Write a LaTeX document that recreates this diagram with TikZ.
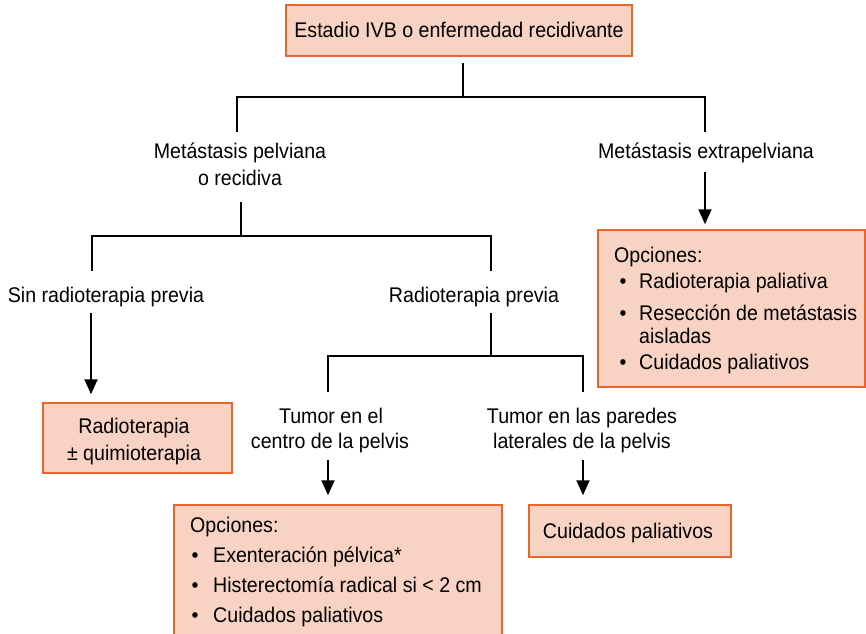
\documentclass[tikz,border=0pt]{standalone}
\usepackage{fontspec}
\setmainfont[FakeStretch=0.925]{Liberation Sans}
\usetikzlibrary{arrows.meta}
\definecolor{boxfill}{HTML}{F8D3C3}
\definecolor{boxline}{HTML}{E8652C}
\begin{document}
\begin{tikzpicture}[x=1pt,y=-1pt,
  box/.style={draw=boxline, fill=boxfill, line width=1.5pt, inner sep=0pt},
  lbl/.style={font=\fontsize{21.2}{24}\selectfont, inner sep=0pt, anchor=base},
  lblw/.style={lbl, anchor=base west},
  bul/.style={lbl},
  ln/.style={black, line width=1.9pt},
  arr/.style={ln, -{Triangle[width=13pt,length=15pt]}}]
\clip (0,0) rectangle (866,633);
\fill[white] (0,0) rectangle (866,633);

% boxes
\node[box, minimum width=346pt, minimum height=51pt] (top) at (459,30.5) {};
\node[box, minimum width=189pt, minimum height=70pt] (rqbox) at (137.5,438) {};
\node[box, minimum width=202pt, minimum height=52pt] (cpbox) at (630,531) {};
\node[box, minimum width=267pt, minimum height=157pt] (extbox) at (731.5,308.5) {};
\node[box, minimum width=328pt, minimum height=150pt] (cenbox) at (338,580) {};

% texts
\node[lbl] (t0) at (459,37) {Estadio IVB o enfermedad recidivante};
\node[lbl] (mp1) at (240,158) {Metástasis pelviana};
\node[lbl] (mp2) at (240,185) {o recidiva};
\node[lbl] (me) at (706,158) {Metástasis extrapelviana};
\node[lbl] (sin) at (106,302) {Sin radioterapia previa};
\node[lbl] (rp) at (474,302) {Radioterapia previa};
\node[lbl] (tc1) at (331,423) {Tumor en el};
\node[lbl] (tc2) at (330,448) {centro de la pelvis};
\node[lbl] (tl1) at (582,423) {Tumor en las paredes};
\node[lbl] (tl2) at (582,448) {laterales de la pelvis};
\node[lbl] (rq1) at (134,433) {Radioterapia};
\node[lbl] (rq2) at (134,460) {± quimioterapia};
\node[lbl] (cp) at (628,538) {Cuidados paliativos};

% right options
\node[lblw] (eo) at (614,262) {Opciones:};
\node[bul] (eb1) at (623,288) {\textbullet};
\node[lblw] (e1) at (639,288) {Radioterapia paliativa};
\node[bul] (eb2) at (623,320) {\textbullet};
\node[lblw] (e2) at (639,320) {Resección de metástasis};
\node[lblw] (e2b) at (639,343) {aisladas};
\node[bul] (eb3) at (623,369) {\textbullet};
\node[lblw] (e3) at (639,369) {Cuidados paliativos};

% bottom-left options
\node[lblw] (co) at (190,532) {Opciones:};
\node[bul] (cb1) at (195,562) {\textbullet};
\node[lblw] (c1) at (213,562) {Exenteración pélvica*};
\node[bul] (cb2) at (195,592) {\textbullet};
\node[lblw] (c2) at (213,592) {Histerectomía radical si < 2 cm};
\node[bul] (cb3) at (195,622) {\textbullet};
\node[lblw] (c3) at (213,622) {Cuidados paliativos};

% junction coordinates
\coordinate (j0a) at (463,63);
\coordinate (j0b) at (463,97);
\coordinate (j0l) at (237,97);
\coordinate (j0r) at (705,97);
\coordinate (mpT) at (237,132);
\coordinate (meT) at (705,132);
\coordinate (j1a) at (241,202);
\coordinate (j1b) at (241,236);
\coordinate (j1l) at (92,236);
\coordinate (j1r) at (491,236);
\coordinate (sinT) at (92,271);
\coordinate (rpT) at (491,271);
\coordinate (j2a) at (491,313);
\coordinate (j2b) at (491,356);
\coordinate (j2l) at (328,356);
\coordinate (j2r) at (583,356);
\coordinate (tcT) at (328,392);
\coordinate (tlT) at (583,392);
\coordinate (sinB) at (91,313);
\coordinate (meB) at (705,172);
\coordinate (tcB) at (328,460);
\coordinate (tlB) at (583,460);

% connectors
\draw[ln] (j0a) -- (j0b);
\draw[ln] (mpT) -- (j0l) -- (j0r) -- (meT);
\draw[ln] (j1a) -- (j1b);
\draw[ln] (sinT) -- (j1l) -- (j1r) -- (rpT);
\draw[ln] (j2a) -- (j2b);
\draw[ln] (tcT) -- (j2l) -- (j2r) -- (tlT);
\draw[arr] (sinB) -- ([yshift=8pt]sinB |- rqbox.north);
\draw[arr] (meB) -- ([yshift=5pt]meB |- extbox.north);
\draw[arr] (tcB) -- ([yshift=9pt]tcB |- cenbox.north);
\draw[arr] (tlB) -- ([yshift=9pt]tlB |- cpbox.north);
\end{tikzpicture}
\end{document}
